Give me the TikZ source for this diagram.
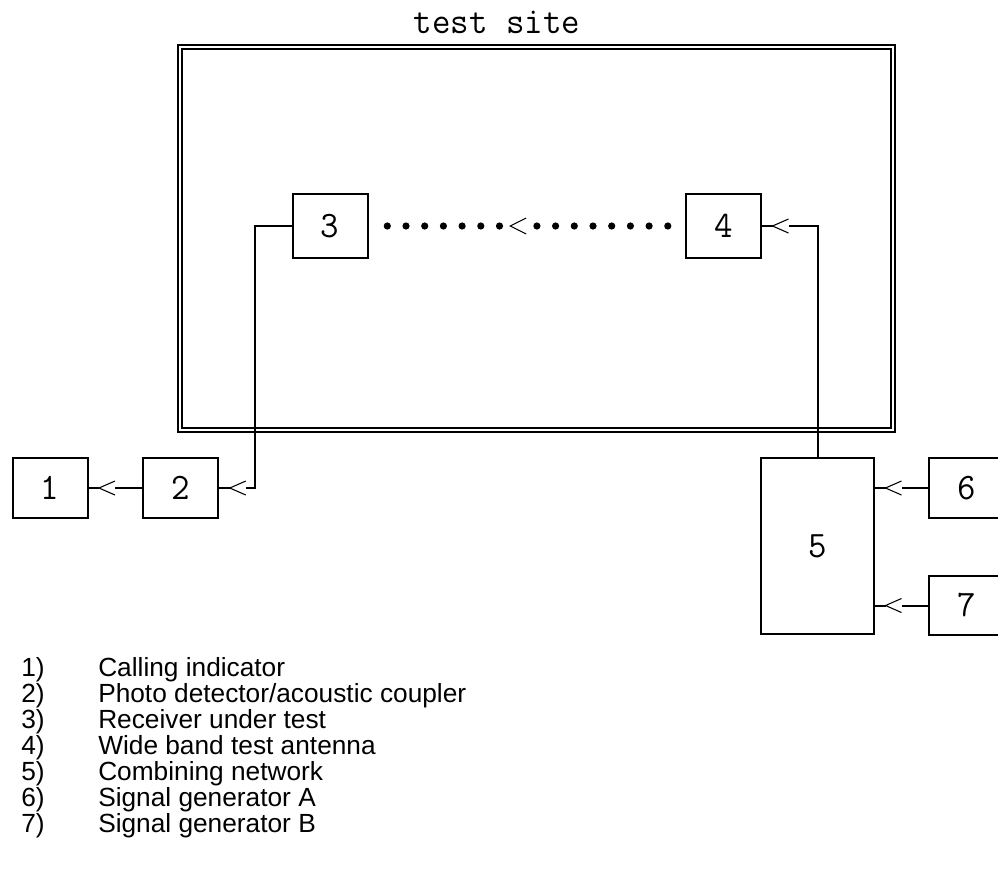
\documentclass[tikz,border=0pt]{standalone}
\usepackage{fontspec}
\setmainfont{Liberation Sans}
\newfontfamily\monof[FakeStretch=0.96]{Latin Modern Mono}
\tikzset{
  blk/.style={draw, line width=1.5pt, inner sep=0pt, minimum width=56.25pt, minimum height=44.55pt, font=\monof\fontsize{28}{28}\selectfont},
  wire/.style={line width=1.5pt},
  chev/.style={line width=0.8pt},
  sitebox/.style={draw, line width=1.3pt, double distance=1.7pt, inner sep=0pt, minimum width=534.8pt, minimum height=287.4pt},
  legnum/.style={anchor=base west, inner sep=0pt, font=\fontsize{19.7}{22}\selectfont},
  legtxt/.style={anchor=base west, inner sep=0pt, font=\fontsize{19.7}{22}\selectfont}
}
\newcommand\tipin[2]{%
  \path (#1) ++(10.5,0) coordinate (#2t) ++(16,0) coordinate (#2b);
  \draw[wire] (#1) -- (#2t);
  \draw[chev] (#2b) ++(0,-7) -- (#2t) -- ++(16,7);
}
\begin{document}
\begin{tikzpicture}[x=0.75pt,y=-0.75pt]
\useasboundingbox (0,0) rectangle (998,872);
\clip (0,0) rectangle (998,872);
% test site
\node[sitebox] (site) at (536.2,238.3) {};
\node[font=\monof\fontsize{28}{28}\selectfont, anchor=base, inner sep=0pt] (title) at (497,33) {test site};
% boxes
\node[blk] (n1) at (50,488) {1};
\node[blk] (n2) at (180.8,488) {2};
\node[blk, minimum height=48pt] (n3) at (330.1,226) {3};
\node[blk, minimum height=48pt] (n4) at (723.5,226) {4};
\node[blk, minimum width=84.75pt, minimum height=131.8pt] (n5) at (817.5,546.2) {5};
\node[blk] (n6) at (966.8,488) {6};
\node[blk] (n7) at (966.8,605.5) {7};
% connectors
\tipin{n1.east}{a1}
\draw[wire] (n2.west) -- (a1b);
\tipin{n2.east}{a2}
\draw[wire] (n3.west) -- ++(-36.7,0) |- (a2b);
\tipin{n4.east}{a4}
\draw[wire] (n5.north) |- (a4b);
\coordinate (e6) at (n5.east |- n6.west);
\tipin{e6}{a6}
\draw[wire] (n6.west) -- (a6b);
\coordinate (e7) at (n5.east |- n7.west);
\tipin{e7}{a7}
\draw[wire] (n7.west) -- (a7b);
% dotted link 4 -> 3
\foreach \j in {1,...,7,9,10,...,16}
  \fill ([shift={(18.7*\j,0)}]n3.east) circle[radius=2.7pt];
\coordinate (m) at ([shift={(18.7*8-8,0)}]n3.east);
\draw[chev] (m) ++(16,-8) -- (m) -- ++(16,8);
% legend
\node[legnum] (l1n) at (21,676) {1)};
\node[legtxt] (l1t) at (98,676) {Calling indicator};
\node[legnum] (l2n) at (21,702) {2)};
\node[legtxt] (l2t) at (98,702) {Photo detector/acoustic coupler};
\node[legnum] (l3n) at (21,728) {3)};
\node[legtxt] (l3t) at (98,728) {Receiver under test};
\node[legnum] (l4n) at (21,754) {4)};
\node[legtxt] (l4t) at (98,754) {Wide band test antenna};
\node[legnum] (l5n) at (21,780) {5)};
\node[legtxt] (l5t) at (98,780) {Combining network};
\node[legnum] (l6n) at (21,806) {6)};
\node[legtxt] (l6t) at (98,806) {Signal generator A};
\node[legnum] (l7n) at (21,832) {7)};
\node[legtxt] (l7t) at (98,832) {Signal generator B};
\end{tikzpicture}
\end{document}
